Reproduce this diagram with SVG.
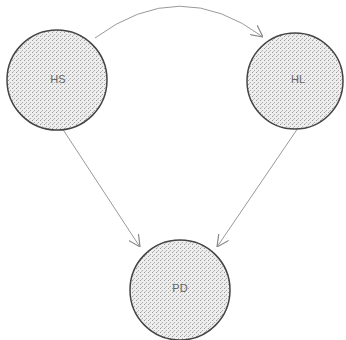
<svg xmlns="http://www.w3.org/2000/svg" width="346" height="340" viewBox="0 0 346 340">
  <defs>
    <pattern id="dots" width="4" height="4" patternUnits="userSpaceOnUse">
      <rect width="4" height="4" fill="#eeeeee"/>
      <rect x="0" y="0" width="1" height="1" fill="#999"/>
      <rect x="2" y="2" width="1" height="1" fill="#aaa"/>
      <rect x="1" y="3" width="1" height="1" fill="#c4c4c4"/>
    </pattern>
    <marker id="arr" markerWidth="12" markerHeight="12" refX="10" refY="5" orient="auto" markerUnits="userSpaceOnUse" viewBox="0 0 10 10">
      <path d="M0,0 L10,5 L0,10" fill="none" stroke="#888" stroke-width="1"/>
    </marker>
  </defs>
  <style>
    .node circle { fill: url(#dots); stroke: #444; stroke-width: 1.5; }
    .node text { font-family: "Liberation Sans", Arial, sans-serif; font-size: 11px; fill: #666; text-anchor: middle; dominant-baseline: central; }
    .edge { fill: none; stroke: #999; stroke-width: 1; marker-end: url(#arr); }
  </style>
  <g id="edges">
    <path class="edge" d="M95,38 Q180,-25 263,37"/>
    <path class="edge" d="M62,128 L140,247"/>
    <path class="edge" d="M298,128 L217,247"/>
  </g>
  <g id="node-HS" class="node">
    <circle cx="57" cy="80" r="50"/>
    <text x="58" y="79">HS</text>
  </g>
  <g id="node-HL" class="node">
    <circle cx="295" cy="81" r="48"/>
    <text x="298" y="79">HL</text>
  </g>
  <g id="node-PD" class="node">
    <circle cx="180" cy="290" r="50"/>
    <text x="180" y="288">PD</text>
  </g>
</svg>
